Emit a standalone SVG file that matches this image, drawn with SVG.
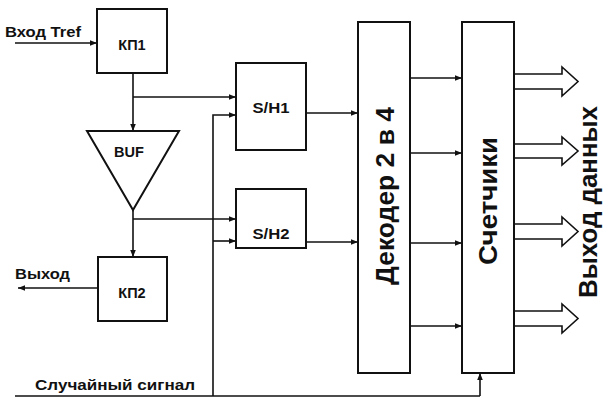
<svg xmlns="http://www.w3.org/2000/svg" width="603" height="398" viewBox="0 0 603 398">
<defs>
<marker id="ah" viewBox="0 0 10 10" refX="10" refY="5" markerWidth="7" markerHeight="7" markerUnits="userSpaceOnUse" orient="auto">
<path d="M0,1 L10,5 L0,9 Z" fill="#111"/>
</marker>
<style>
.box{fill:#fff;stroke:#111;stroke-width:2}
.ln{fill:none;stroke:#111;stroke-width:1.6}
.ar{fill:none;stroke:#111;stroke-width:1.6;marker-end:url(#ah)}
.big{fill:#fff;stroke:#111;stroke-width:1.6}
.t{font-family:"Liberation Sans",Arial,sans-serif;font-weight:bold;font-size:14.5px;fill:#111}
.tc{text-anchor:middle}
.v{font-family:"Liberation Sans",Arial,sans-serif;font-weight:bold;font-size:26px;fill:#111;text-anchor:middle;dominant-baseline:central}
</style>
</defs>
<rect width="603" height="398" fill="#fff"/>
<g id="connectors">
<line class="ar" x1="15" y1="43" x2="97" y2="43"/>
<line class="ar" x1="133" y1="73" x2="133" y2="131"/>
<line class="ar" x1="133" y1="97" x2="236" y2="97"/>
<line class="ar" x1="133" y1="210" x2="133" y2="257"/>
<line class="ar" x1="133" y1="219" x2="236" y2="219"/>
<line class="ar" x1="98" y1="288" x2="18" y2="288"/>
<polyline class="ln" points="15,396 480,396"/>
<polyline class="ar" points="213,396 213,115 236,115"/>
<line class="ar" x1="213" y1="241" x2="236" y2="241"/>
<line class="ar" x1="480" y1="396" x2="480" y2="373"/>
<line class="ar" x1="306" y1="113" x2="358" y2="113"/>
<line class="ar" x1="306" y1="242" x2="358" y2="242"/>
<line class="ar" x1="410" y1="78" x2="462" y2="78"/>
<line class="ar" x1="410" y1="153" x2="462" y2="153"/>
<line class="ar" x1="410" y1="243" x2="462" y2="243"/>
<line class="ar" x1="410" y1="326" x2="462" y2="326"/>
<path class="big" d="M514,74 H562 V67 L578,81.5 L562,96 V89 H514"/>
<path class="big" d="M514,144 H562 V137 L578,151 L562,165 V158 H514"/>
<path class="big" d="M514,224 H562 V217 L578,231.5 L562,246 V239 H514"/>
<path class="big" d="M514,311 H562 V304 L578,318.5 L562,333 V326 H514"/>
</g>
<g id="labels">
<text class="t" x="5" y="37" textLength="76" lengthAdjust="spacingAndGlyphs">Вход Tref</text>
<text class="t" x="15" y="279" textLength="55" lengthAdjust="spacingAndGlyphs">Выход</text>
<text class="t" x="35" y="390" textLength="160" lengthAdjust="spacingAndGlyphs">Случайный сигнал</text>
<text class="v" transform="translate(588,202) rotate(-90)" font-size="21" textLength="192" lengthAdjust="spacingAndGlyphs">Выход данных</text>
</g>
<g id="kp1">
<rect class="box" x="97" y="9" width="70" height="64"/>
<text class="t tc" x="132" y="50">КП1</text>
</g>
<g id="buf">
<polygon class="box" points="87,131 179,131 133,210"/>
<text class="t tc" x="129" y="157">BUF</text>
</g>
<g id="kp2">
<rect class="box" x="98" y="257" width="69" height="64"/>
<text class="t tc" x="132" y="298">КП2</text>
</g>
<g id="sh1">
<rect class="box" x="236" y="63" width="70" height="87"/>
<text class="t tc" x="271" y="113" textLength="37" lengthAdjust="spacingAndGlyphs">S/H1</text>
</g>
<g id="sh2">
<rect class="box" x="236" y="189" width="70" height="59"/>
<text class="t tc" x="271" y="239" textLength="37" lengthAdjust="spacingAndGlyphs">S/H2</text>
</g>
<g id="decoder">
<rect class="box" x="358" y="22" width="52" height="351"/>
<text class="v" transform="translate(385,196) rotate(-90)" textLength="178" lengthAdjust="spacingAndGlyphs">Декодер 2 в 4</text>
</g>
<g id="counters">
<rect class="box" x="462" y="22" width="52" height="351"/>
<text class="v" transform="translate(488,201) rotate(-90)" textLength="128" lengthAdjust="spacingAndGlyphs">Счетчики</text>
</g>
</svg>
